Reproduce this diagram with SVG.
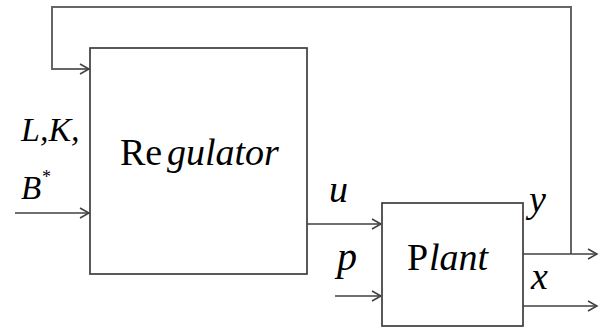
<svg xmlns="http://www.w3.org/2000/svg" width="603" height="330" viewBox="0 0 603 330">
<defs>
<marker id="arr" markerWidth="12" markerHeight="12" refX="10" refY="6" orient="auto" markerUnits="userSpaceOnUse">
<path d="M1,1 L10,6 L1,11" fill="none" stroke="#404040" stroke-width="1.5"/>
</marker>
</defs>
<style>
.box{fill:#fff;stroke:#3c3c3c;stroke-width:1.7}
.ln{fill:none;stroke:#404040;stroke-width:1.7}
.fb{fill:none;stroke:#666;stroke-width:2}
text{font-family:'Liberation Serif','Times New Roman',serif;fill:#000}
.i{font-style:italic}
</style>
<rect width="603" height="330" fill="#fff"/>
<g id="connectors">
<polyline class="fb" points="571,254 571,7 52,7 52,69 89,69" marker-end="url(#arr)"/>
<line class="ln" x1="15" y1="213" x2="89" y2="213" marker-end="url(#arr)"/>
<line class="ln" x1="307" y1="224" x2="381" y2="224" marker-end="url(#arr)"/>
<line class="ln" x1="335" y1="296" x2="381" y2="296" marker-end="url(#arr)"/>
<line class="ln" x1="523" y1="254" x2="597" y2="254" marker-end="url(#arr)"/>
<line class="ln" x1="523" y1="306" x2="597" y2="306" marker-end="url(#arr)"/>
</g>
<g id="regulator">
<rect class="box" x="90" y="48" width="217" height="226"/>
<text y="165" font-size="38"><tspan x="120">Re</tspan><tspan class="i" x="167">gulator</tspan></text>
</g>
<g id="plant">
<rect class="box" x="382" y="203" width="141" height="123"/>
<text y="270" font-size="38"><tspan x="407">P</tspan><tspan class="i" x="429">lant</tspan></text>
</g>
<g id="labels">
<text class="i" x="21" y="141" font-size="34">L,K,</text>
<text class="i" x="21" y="199" font-size="33">B</text>
<text x="42" y="183" font-size="18">*</text>
<text class="i" x="329" y="202" font-size="38">u</text>
<text class="i" x="337" y="270" font-size="40">p</text>
<text class="i" x="529" y="212" font-size="38">y</text>
<text class="i" x="531" y="289" font-size="38">x</text>
</g>
</svg>
